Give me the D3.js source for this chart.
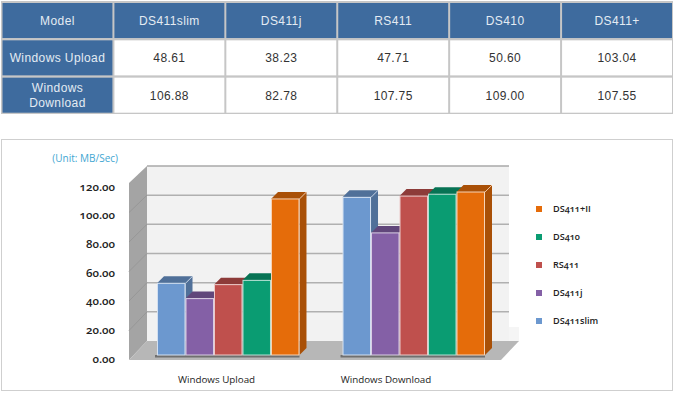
<!DOCTYPE html>
<html>
<head>
<meta charset="utf-8">
<script src="https://cdn.jsdelivr.net/npm/d3@7"></script>
<style>
html, body { margin: 0; padding: 0; background: #fff; }
svg { display: block; }
.table-text { font-family: "Liberation Sans", Arial, sans-serif; font-size: 12px; letter-spacing: 0.4px; }
.chart-text { font-family: "Open Sans", "Noto Sans", sans-serif; font-variant-numeric: oldstyle-nums; }
</style>
</head>
<body>
<div id="chart"></div>
<script>
// table
const tableHeader = ['Model', 'DS411slim', 'DS411j', 'RS411', 'DS410', 'DS411+'];
const tableRowNames = [['Windows Upload'], ['Windows', 'Download']];
const tableUpload = ['48.61', '38.23', '47.71', '50.60', '103.04'];
const tableDownload = ['106.88', '82.78', '107.75', '109.00', '107.55'];

// bars
const groups = ['Windows Upload', 'Windows Download'];
const models = ['DS411slim', 'DS411j', 'RS411', 'DS410', 'DS411+II'];
const uploadValues = [48.61, 38.23, 47.71, 50.60, 105.8];
const downloadValues = [106.88, 82.78, 107.75, 109.00, 110.5];
const modelColors = ['#6c98cf', '#8460a6', '#bf504d', '#0a9c72', '#e56c0a'];
const yTicks = [0, 20, 40, 60, 80, 100, 120];

const svg = d3.select('#chart').append('svg')
    .attr('width', 673)
    .attr('height', 394);

drawTable();
drawChart();

function drawTable() {
    const headBg = '#3e6b9e';
    const colX = d3.scaleBand().domain(d3.range(6)).range([1.5, 673]);
    const rowY = d3.scaleBand().domain(d3.range(3)).range([2, 114]);

    svg.append('rect')
        .attr('x', 1).attr('y', 1)
        .attr('width', 672).attr('height', 113)
        .attr('fill', '#c6c6c6');

    const rows = [tableHeader, [tableRowNames[0]].concat(tableUpload), [tableRowNames[1]].concat(tableDownload)];
    rows.forEach((row, r) => {
        row.forEach((cell, c) => {
            const isHead = r === 0 || c === 0;
            svg.append('rect')
                .attr('x', colX(c) + 1)
                .attr('y', rowY(r) + 1)
                .attr('width', colX.bandwidth() - 2)
                .attr('height', rowY.bandwidth() - 2.3)
                .attr('fill', isHead ? headBg : '#fff');

            const lines = Array.isArray(cell) ? cell : [cell];
            const cy = rowY(r) + rowY.bandwidth() / 2;
            lines.forEach((line, i) => {
                svg.append('text')
                    .attr('class', 'table-text')
                    .attr('x', colX(c) + colX.bandwidth() / 2)
                    .attr('y', cy + (i - (lines.length - 1) / 2) * 15)
                    .attr('dy', '0.35em')
                    .attr('text-anchor', 'middle')
                    .attr('fill', isHead ? '#e4ebf3' : '#333')
                    .text(line);
            });
        });
    });
}

function drawChart() {
    const wallLeft = 129, wallBack = 147, wallRight = 509;
    const depth = 7;

    // white box round the chart
    svg.append('rect')
        .attr('x', 1.5).attr('y', 139.5)
        .attr('width', 671).attr('height', 251)
        .attr('fill', '#fff')
        .attr('stroke', '#cfcfcf');

    const yFront = d3.scaleLinear().domain([0, 120]).range([360, 183]);
    const yBack = d3.scaleLinear().domain([0, 120]).range([341, 166]);
    const yBar = d3.scaleLinear().domain([0, 120]).range([355, 178]);

    const x0 = d3.scaleBand().domain(groups).range([157, 485]).paddingInner(0.232);
    const x1 = d3.scaleBand().domain(models).range([0, x0.bandwidth()]);
    const color = d3.scaleOrdinal().domain(models).range(modelColors);
    const edge = m => d3.interpolateRgb(color(m), '#fff')(0.7);

    const poly = pts => pts.map(p => p.join(',')).join(' ');

    // back wall
    svg.append('rect')
        .attr('x', wallBack).attr('y', yBack(120))
        .attr('width', wallRight - wallBack).attr('height', yBack(0) - yBack(120))
        .attr('fill', '#f2f2f2');
    svg.append('rect')
        .attr('x', wallRight).attr('y', 327)
        .attr('width', 10).attr('height', 14)
        .attr('fill', '#f5f5f5');
    svg.append('line')
        .attr('x1', wallBack).attr('x2', wallRight)
        .attr('y1', yBack(120)).attr('y2', yBack(120))
        .attr('stroke', '#a8a8a8').attr('stroke-width', 1.5);

    // left wall
    svg.append('polygon')
        .attr('points', poly([[wallLeft, yFront(120)], [wallBack, yBack(120)], [wallBack, yBack(0)], [wallLeft, yFront(0)]]))
        .attr('fill', '#a4a4a4');

    // floor
    svg.append('polygon')
        .attr('points', poly([[wallLeft, yFront(0)], [wallBack, yBack(0)], [519, yBack(0)], [501, yFront(0)]]))
        .attr('fill', '#b7b7b7');

    // gridlines, on the back wall and running down the left wall
    const grid = svg.append('g');
    grid.selectAll('line.back')
        .data(yTicks.slice(1, 6))
        .join('line')
        .attr('class', 'back')
        .attr('x1', wallBack).attr('x2', wallRight)
        .attr('y1', d => yBack(d)).attr('y2', d => yBack(d))
        .attr('stroke', '#b0b0b0').attr('stroke-width', 1.5);
    grid.selectAll('line.side')
        .data(yTicks.slice(1, 6))
        .join('line')
        .attr('class', 'side')
        .attr('x1', wallLeft).attr('x2', wallBack)
        .attr('y1', d => yFront(d)).attr('y2', d => yBack(d))
        .attr('stroke', '#979797');

    const series = groups.map((g, i) => ({
        group: g,
        values: i === 0 ? uploadValues : downloadValues
    }));

    // shadow under the bars
    svg.selectAll('.bar-shadow')
        .data(series)
        .join('rect')
        .attr('class', 'bar-shadow')
        .attr('x', d => x0(d.group) - 2)
        .attr('y', yBar(0))
        .attr('width', x0.bandwidth() + 2)
        .attr('height', 2.5)
        .attr('fill', '#6f6f6f');

    const barGroups = svg.selectAll('.bar-group')
        .data(series)
        .join('g')
        .attr('class', 'bar-group')
        .attr('transform', d => `translate(${x0(d.group)},0)`);

    const bars = barGroups.selectAll('.bar')
        .data(d => d.values.map((v, i) => ({ model: models[i], value: v })))
        .join('g')
        .attr('class', 'bar');

    const w = x1.bandwidth();

    // side face
    bars.append('polygon')
        .attr('points', d => {
            const l = x1(d.model) + w, t = yBar(d.value), b = yBar(0);
            return poly([[l, t], [l + depth, t - depth], [l + depth, b - depth], [l, b]]);
        })
        .attr('fill', d => d3.color(color(d.model)).darker(0.85));

    // top face
    bars.append('polygon')
        .attr('points', d => {
            const l = x1(d.model), t = yBar(d.value);
            return poly([[l, t], [l + depth, t - depth], [l + w + depth, t - depth], [l + w, t]]);
        })
        .attr('fill', d => d3.color(color(d.model)).darker(0.85));

    // light edge from the front corner back
    bars.append('line')
        .attr('x1', d => x1(d.model) + w)
        .attr('y1', d => yBar(d.value))
        .attr('x2', d => x1(d.model) + w + depth)
        .attr('y2', d => yBar(d.value) - depth)
        .attr('stroke', d => edge(d.model))
        .attr('stroke-width', 0.8);

    // front face
    bars.append('rect')
        .attr('x', d => x1(d.model) + 0.5)
        .attr('y', d => yBar(d.value))
        .attr('width', w - 1)
        .attr('height', d => yBar(0) - yBar(d.value))
        .attr('fill', d => color(d.model))
        .attr('stroke', d => edge(d.model))
        .attr('stroke-width', 1);

    // value axis
    const yAxisScale = d3.scaleLinear().domain([0, 120]).range([358.5, 186.5]);
    const yAxis = svg.append('g')
        .attr('class', 'chart-text')
        .attr('transform', 'translate(115,0)')
        .call(d3.axisLeft(yAxisScale).tickValues(yTicks).tickFormat(d3.format('.2f')).tickSize(0).tickPadding(0));
    yAxis.select('.domain').remove();
    yAxis.selectAll('text')
        .attr('font-family', '"Open Sans", "Noto Sans", sans-serif')
        .attr('font-size', 11.5)
        .attr('font-weight', 600)
        .attr('fill', '#222');

    svg.append('text')
        .attr('class', 'chart-text')
        .attr('x', 118).attr('y', 162)
        .attr('text-anchor', 'end')
        .attr('font-size', 10)
        .attr('fill', '#3fa6d2')
        .text('(Unit: MB/Sec)');

    // category labels are not centred on their bars in the picture
    const labelX = d3.scalePoint().domain(groups).range([216.5, 386]);
    svg.selectAll('.group-label')
        .data(groups)
        .join('text')
        .attr('class', 'group-label chart-text')
        .attr('x', d => labelX(d))
        .attr('y', 383)
        .attr('text-anchor', 'middle')
        .attr('font-size', 9.8)
        .attr('fill', '#222')
        .text(d => d);

    // legend, top entry is the last model
    const legendY = d3.scalePoint().domain(models.slice().reverse()).range([209, 321]);
    const legend = svg.selectAll('.legend')
        .data(models)
        .join('g')
        .attr('class', 'legend')
        .attr('transform', d => `translate(0,${legendY(d)})`);
    legend.append('rect')
        .attr('x', 536).attr('y', -3)
        .attr('width', 6).attr('height', 6)
        .attr('fill', d => color(d));
    legend.append('text')
        .attr('class', 'chart-text')
        .attr('x', 553)
        .attr('dy', '0.35em')
        .attr('font-size', 9.1)
        .attr('font-weight', 600)
        .attr('fill', '#222')
        .text(d => d);
}
</script>
</body>
</html>
